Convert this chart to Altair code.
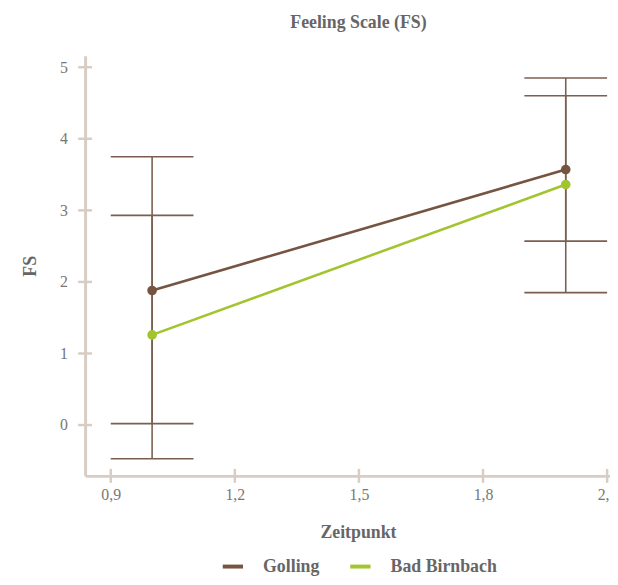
import altair as alt
import pandas as pd

# ---- data ----
series = ["Golling", "Bad Birnbach"]
zeitpunkt = [1, 2]
golling_mean = [1.88, 3.57]
golling_lower = [0.02, 2.57]
golling_upper = [3.75, 4.60]
bb_mean = [1.26, 3.36]
bb_lower = [-0.47, 1.85]
bb_upper = [2.93, 4.85]

y_ticks = [0, 1, 2, 3, 4, 5]
x_ticks = [0.9, 1.2, 1.5, 1.8, 2.1]

colors = ["#765442", "#a2c42f"]
err_color = "#7a5f50"
axis_color = "#d8cdc4"
text_color = "#666666"
font = "Liberation Serif"

rows = []
for name, m, lo, hi in [
    ("Golling", golling_mean, golling_lower, golling_upper),
    ("Bad Birnbach", bb_mean, bb_lower, bb_upper),
]:
    for i, z in enumerate(zeitpunkt):
        rows.append({"series": name, "zeit": z, "mean": m[i], "lower": lo[i], "upper": hi[i]})
df = pd.DataFrame(rows)

W, H = 531, 425
x_dom = [0.838, 2.107]
y_dom = [-0.71, 5.16]

x_scale = alt.Scale(domain=x_dom, nice=False, zero=False)
y_scale = alt.Scale(domain=y_dom, nice=False, zero=False)

x_axis = alt.Axis(
    values=x_ticks,
    labelExpr="replace(format(datum.value, '.1f'), '.', ',')",
    ticks=False, grid=False, labelPadding=11, titlePadding=21, titleX=276,
)
y_axis = alt.Axis(
    values=y_ticks, format="d",
    ticks=False, grid=False, labelPadding=18, titlePadding=20,
)


def X(field, **kw):
    return alt.X(field, scale=x_scale, axis=x_axis, title="Zeitpunkt", **kw)


def Y(field, **kw):
    return alt.Y(field, scale=y_scale, axis=y_axis, title="FS", **kw)


base = alt.Chart(df)

stems = base.mark_rule(color=err_color, strokeWidth=1.6).encode(
    x=X("zeit:Q"), y=Y("lower:Q"), y2="upper:Q"
)

caps = base.transform_calculate(
    xlo="datum.zeit - 0.1", xhi="datum.zeit + 0.1"
)
cap_lo = caps.mark_rule(color=err_color, strokeWidth=1.6).encode(
    x=X("xlo:Q"), x2="xhi:Q", y=Y("lower:Q")
)
cap_hi = caps.mark_rule(color=err_color, strokeWidth=1.6).encode(
    x=X("xlo:Q"), x2="xhi:Q", y=Y("upper:Q")
)

color = alt.Color(
    "series:N",
    scale=alt.Scale(domain=series, range=colors),
    legend=alt.Legend(
        title=None, orient="none", direction="horizontal",
        legendX=137, legendY=504,
        symbolType="stroke", symbolStrokeWidth=4, symbolSize=420,
        labelFont=font, labelFontSize=18, labelFontWeight="bold",
        labelColor=text_color, columnPadding=22, labelOffset=18,
    ),
)

lines = base.mark_line(strokeWidth=2.6).encode(
    x=X("zeit:Q"), y=Y("mean:Q"), color=color
)
points = base.mark_circle(size=95, opacity=1).encode(
    x=X("zeit:Q"), y=Y("mean:Q"), color=color
)

ytick_df = pd.DataFrame({"v": y_ticks})
xtick_df = pd.DataFrame({"v": x_ticks})

yticks = alt.Chart(ytick_df).mark_rule(color=axis_color, strokeWidth=2.5).encode(
    y=Y("v:Q"), x=alt.value(-7), x2=alt.value(7)
)
xticks = alt.Chart(xtick_df).mark_rule(color=axis_color, strokeWidth=2.5).encode(
    x=X("v:Q"), y=alt.value(H - 7), y2=alt.value(H + 7)
)

chart = (
    alt.layer(stems, cap_lo, cap_hi, lines, points, yticks, xticks)
    .properties(
        width=W, height=H,
        title=alt.TitleParams(
            "Feeling Scale (FS)", font=font, fontSize=18, fontWeight="bold",
            color=text_color, offset=24, anchor="middle", dx=11,
        ),
        autosize=alt.AutoSizeParams(type="none"),
        padding={"left": 78, "top": 45, "right": 0, "bottom": 99},
    )
    .configure_view(stroke=None)
    .configure_axis(
        domainColor=axis_color, domainWidth=3,
        labelFont=font, labelFontSize=16, labelColor="#777777",
        titleFont=font, titleFontSize=18, titleFontWeight="bold", titleColor=text_color,
    )
)

chart.save("out.html", embed_options={"renderer": "svg", "actions": False})
